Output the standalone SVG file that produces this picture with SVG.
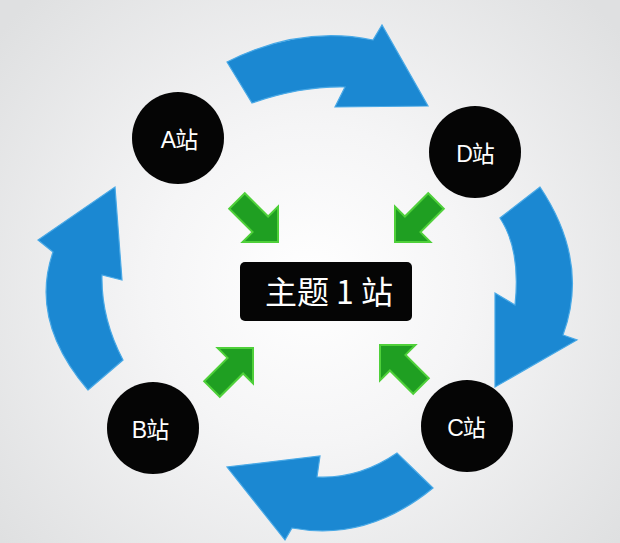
<svg xmlns="http://www.w3.org/2000/svg" width="620" height="543" viewBox="0 0 620 543">
  <defs>
    <radialGradient id="bg" cx="310" cy="285" r="400" gradientUnits="userSpaceOnUse">
      <stop offset="0" stop-color="#ffffff"/>
      <stop offset="0.4" stop-color="#f5f5f6"/>
      <stop offset="1" stop-color="#dfe0e1"/>
    </radialGradient>
    <path id="garrow" d="M0,0 L-25,-25 L-25,-11 L-58,-11 L-58,11 L-25,11 L-25,25 Z"/>
    <style>
      .blue { fill: #1b88d2; stroke: #49a9e6; stroke-width: 1.2; stroke-linejoin: miter; }
      .green { fill: #1f9f22; stroke: #4fd03a; stroke-width: 2; stroke-linejoin: miter; }
      .node { fill: #050505; }
      .label { fill: #ffffff; font-family: "Liberation Sans", "Noto Sans CJK SC", sans-serif; font-size: 23px; letter-spacing: -1px; text-anchor: middle; }
      .title { fill: #ffffff; font-family: "Noto Sans CJK SC", "Liberation Sans", sans-serif; font-size: 32px; text-anchor: middle; }
    </style>
  </defs>
  <rect x="0" y="0" width="620" height="543" fill="url(#bg)"/>

  <g id="connectors">
    <path class="blue" d="M227,62 L252,103 Q301,86 345,87 L335,107 L428,106 L382,25 L373,40 Q300,25 227,62 Z"/>
    <path class="blue" d="M540,187 L500,218 Q521,250 515,305 L495,293 L495,387 L577,340 L563,335 Q590,262 540,187 Z"/>
    <path class="blue" d="M433,488 L397,453 Q359,479 317,477 L320,456 L227,467 L285,540 L292,528 Q367,542 433,488 Z"/>
    <path class="blue" d="M88,390 L123,360 Q101,318 102,275 L122,280 L115,187 L38,240 L53,252 Q29,321 88,390 Z"/>
    <use href="#garrow" class="green" transform="translate(278,242) rotate(45)"/>
    <use href="#garrow" class="green" transform="translate(395,242) rotate(135)"/>
    <use href="#garrow" class="green" transform="translate(253,348) rotate(-45)"/>
    <use href="#garrow" class="green" transform="translate(380,345) rotate(-135)"/>
  </g>

  <g id="center">
    <rect x="240" y="262" width="172" height="59" rx="5" fill="#050505"/>
    <text class="title" x="329" y="304">主题 1 站</text>
  </g>
  <g id="nodeA">
    <circle class="node" cx="178" cy="138" r="46"/>
    <text class="label" x="179" y="148">A站</text>
  </g>
  <g id="nodeD">
    <circle class="node" cx="475" cy="152" r="46"/>
    <text class="label" x="475" y="162">D站</text>
  </g>
  <g id="nodeB">
    <circle class="node" cx="153" cy="428" r="46"/>
    <text class="label" x="150" y="438">B站</text>
  </g>
  <g id="nodeC">
    <circle class="node" cx="467" cy="426" r="46"/>
    <text class="label" x="466" y="436">C站</text>
  </g>
</svg>
